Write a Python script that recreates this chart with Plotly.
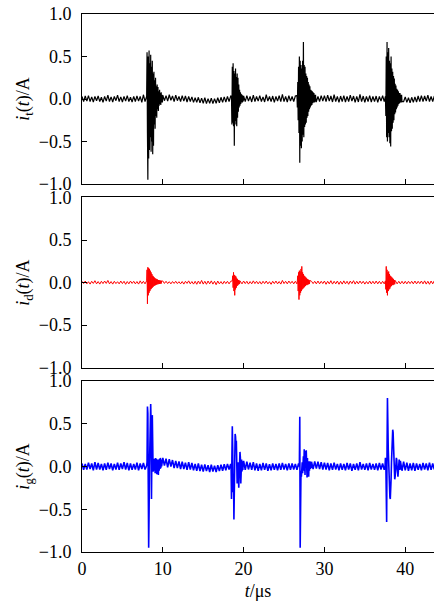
import numpy as np
import plotly.graph_objects as go

# ---------------------------------------------------------------
# Sampled currents (A).  Background record: 0.2 us step from t = 0.
# Discharge bursts: 0.05 us step from the given start time (us).
# ---------------------------------------------------------------
BASE_STEP = 0.2
BURST_STEP = 0.05

# total current i_t(t)
it_base = [
    0.03, -0.03, 0.035, -0.025, 0.04, -0.03, 0.025, -0.035, 0.03, -0.02,
    0.035, -0.03, 0.02, -0.04, 0.03, -0.025, 0.045, -0.03, 0.025, -0.035,
    0.03, -0.02, 0.045, -0.03, 0.025, -0.035, 0.03, -0.025, 0.04, -0.03,
    0.02, -0.035, 0.03, -0.03, 0.035, -0.025, 0.03, -0.04, 0.05, -0.03,
    0.03, -0.03, 0.03, -0.03, 0.03, -0.03, 0.03, -0.03, 0.03, -0.03,
    0.045, -0.02, 0.04, -0.025, 0.05, -0.015, 0.035, -0.03, 0.045, -0.02,
    0.03, -0.03, 0.04, -0.025, 0.035, -0.035, 0.03, -0.03, 0.025, -0.04,
    0.015, -0.04, 0.02, -0.045, 0.01, -0.05, 0.015, -0.055, 0.005, -0.05,
    0.01, -0.055, 0.005, -0.05, 0.015, -0.045, 0.02, -0.04, 0.025, -0.035,
    0.03, -0.03, 0.035, -0.03, 0.03, -0.03, 0.03, -0.03, 0.03, -0.03,
    0.035, -0.03, 0.04, -0.025, 0.03, -0.035, 0.045, -0.03, 0.03, -0.025,
    0.04, -0.03, 0.025, -0.035, 0.05, -0.025, 0.03, -0.03, 0.035, -0.04,
    0.03, -0.025, 0.04, -0.03, 0.055, -0.03, 0.03, -0.035, 0.04, -0.025,
    0.03, -0.03, 0.035, -0.03, 0.03, -0.03, 0.03, -0.03, 0.03, -0.03,
    0.03, -0.03, 0.03, -0.03, 0.03, -0.03, 0.03, -0.03, 0.04, -0.025,
    0.04, -0.03, 0.045, -0.025, 0.035, -0.035, 0.05, -0.03, 0.03, -0.04,
    0.035, -0.03, 0.04, -0.035, 0.03, -0.03, 0.045, -0.025, 0.035, -0.04,
    0.03, -0.035, 0.055, -0.03, 0.035, -0.04, 0.03, -0.03, 0.04, -0.035,
    0.03, -0.03, 0.035, -0.04, 0.03, -0.025, 0.04, -0.03, 0.03, -0.03,
    0.03, -0.03, 0.03, -0.03, 0.03, -0.03, 0.03, -0.03, 0.03, -0.03,
    0.025, -0.04, 0.015, -0.045, 0.02, -0.04, 0.025, -0.035, 0.035, -0.03,
    0.04, -0.03, 0.035, -0.025, 0.045, -0.03, 0.03, -0.03, 0.035,
]
it_bursts = [
    (8.0, [0.03, 0.55, -0.4, -0.95, 0.5, -0.7, 0.57, -0.6, 0.42, -0.45,
           0.52, -0.62, 0.38, -0.5, 0.45, -0.65, 0.3, -0.55, 0.32, -0.3,
           0.22, -0.35, 0.25, -0.2, 0.15, -0.22, 0.17, -0.12, 0.14, -0.14,
           0.09, -0.08, 0.11, -0.06, 0.07, -0.07, 0.08, -0.04, 0.05, -0.04]),
    (18.5, [0.03, -0.3, 0.38, -0.28, 0.42, -0.32, 0.33, -0.55, 0.3, -0.26,
            0.36, -0.3, 0.26, -0.32, 0.3, -0.22, 0.25, -0.15, 0.17, -0.1,
            0.11, -0.08, 0.08, -0.06, 0.06, -0.04, 0.05, -0.04, 0.04, -0.03]),
    (26.6, [0.04, -0.1, 0.2, -0.25, 0.38, -0.4, 0.5, -0.75, 0.45, -0.55,
            0.4, -0.58, 0.36, -0.5, 0.45, -0.42, 0.67, -0.45, 0.4, -0.33,
            0.38, -0.3, 0.3, -0.28, 0.27, -0.22, 0.25, -0.2, 0.2, -0.15,
            0.17, -0.12, 0.15, -0.1, 0.11, -0.08, 0.1, -0.07, 0.09, -0.05,
            0.08, -0.04, 0.07, -0.04, 0.05, -0.03, 0.05, -0.03]),
    (37.55, [0.03, -0.2, 0.5, -0.45, 0.67, -0.5, 0.55, -0.4, 0.6, -0.45,
             0.45, -0.52, 0.42, -0.56, 0.5, -0.38, 0.36, -0.35, 0.32, -0.28,
             0.27, -0.25, 0.24, -0.18, 0.18, -0.16, 0.16, -0.12, 0.12, -0.1,
             0.11, -0.08, 0.09, -0.06, 0.07, -0.05, 0.07, -0.04, 0.05, -0.04,
             0.05, -0.03]),
]

# direct component i_d(t)
id_base = [
    0.015, -0.012, 0.018, -0.015, 0.01, -0.018, 0.015, -0.01, 0.022, -0.015,
    0.012, -0.018, 0.015, -0.012, 0.018, -0.01, 0.025, -0.015, 0.012, -0.018,
    0.015, -0.012, 0.01, -0.015, 0.018, -0.012, 0.015, -0.02, 0.012, -0.015,
    0.018, -0.01, 0.015, -0.015, 0.012, -0.018, 0.02, -0.012, 0.015, -0.015,
    0.015, -0.015, 0.015, -0.015, 0.015, -0.015, 0.015, -0.015, 0.015, -0.015,
    0.018, -0.01, 0.015, -0.012, 0.01, -0.015, 0.012, -0.01, 0.015, -0.012,
    0.01, -0.015, 0.012, -0.018, 0.015, -0.01, 0.02, -0.015, 0.012, -0.018,
    0.015, -0.02, 0.018, -0.015, 0.025, -0.018, 0.015, -0.02, 0.018, -0.015,
    0.02, -0.018, 0.015, -0.025, 0.018, -0.015, 0.012, -0.018, 0.015, -0.012,
    0.015, -0.015, 0.015, -0.015, 0.015, -0.015, 0.015, -0.015, 0.015, -0.015,
    0.018, -0.012, 0.015, -0.018, 0.012, -0.015, 0.02, -0.012, 0.015, -0.015,
    0.012, -0.018, 0.015, -0.012, 0.018, -0.015, 0.01, -0.02, 0.015, -0.012,
    0.018, -0.015, 0.012, -0.018, 0.025, -0.012, 0.015, -0.015, 0.018, -0.01,
    0.015, -0.015, 0.015, -0.015, 0.015, -0.015, 0.015, -0.015, 0.015, -0.015,
    0.015, -0.015, 0.015, -0.012, 0.015, -0.015, 0.018, -0.015, 0.015, -0.012,
    0.018, -0.02, 0.015, -0.015, 0.022, -0.018, 0.015, -0.015, 0.018, -0.02,
    0.015, -0.018, 0.02, -0.015, 0.015, -0.02, 0.018, -0.012, 0.022, -0.018,
    0.015, -0.015, 0.018, -0.012, 0.015, -0.018, 0.012, -0.015, 0.018, -0.015,
    0.015, -0.015, 0.018, -0.015, 0.015, -0.015, 0.015, -0.015, 0.015, -0.015,
    0.015, -0.015, 0.015, -0.015, 0.015, -0.015, 0.015, -0.015, 0.015, -0.015,
    0.015, -0.015, 0.015, -0.012, 0.015, -0.015, 0.018, -0.015, 0.015, -0.012,
    0.018, -0.015, 0.02, -0.018, 0.015, -0.02, 0.018, -0.015, 0.022,
]
id_bursts = [
    (8.0, [0.02, 0.15, -0.25, 0.18, -0.15, 0.17, -0.12, 0.16, -0.1, 0.14,
           -0.08, 0.12, -0.07, 0.1, -0.06, 0.08, -0.05, 0.07, -0.04, 0.06,
           -0.035, 0.05, -0.03, 0.045, -0.025, 0.04, -0.02, 0.035, -0.02, 0.03,
           -0.015, 0.028, -0.015, 0.025, -0.012, 0.022, -0.012, 0.02]),
    (18.6, [0.02, 0.08, -0.06, 0.12, -0.1, 0.09, -0.15, 0.08, -0.08, 0.07,
            -0.06, 0.05, -0.04, 0.04, -0.03, 0.03, -0.02, 0.025, -0.015, 0.02]),
    (26.65, [0.02, 0.08, -0.1, 0.12, -0.2, 0.14, -0.15, 0.13, -0.12, 0.16,
             -0.1, 0.19, -0.08, 0.12, -0.07, 0.1, -0.06, 0.08, -0.05, 0.07,
             -0.04, 0.06, -0.03, 0.05, -0.03, 0.04, -0.02, 0.035, -0.02, 0.03,
             -0.015, 0.025]),
    (37.55, [0.02, -0.08, 0.19, -0.12, 0.15, -0.15, 0.12, -0.1, 0.13, -0.08,
             0.1, -0.07, 0.08, -0.05, 0.07, -0.04, 0.06, -0.03, 0.05, -0.03,
             0.04, -0.02, 0.03, -0.02, 0.025]),
]

# ground component i_g(t)
ig_base = [
    0.035, -0.04, 0.03, -0.035, 0.045, -0.03, 0.035, -0.045, 0.05, -0.035,
    0.04, -0.035, 0.03, -0.045, 0.035, -0.04, 0.045, -0.03, 0.035, -0.045,
    0.03, -0.035, 0.045, -0.04, 0.035, -0.03, 0.05, -0.035, 0.04, -0.045,
    0.035, -0.04, 0.03, -0.035, 0.045, -0.045, 0.035, -0.03, 0.04, -0.035,
    0.03, -0.03, 0.03, -0.03, 0.03, -0.03, 0.03, -0.03, 0.03, -0.03,
    0.1, 0.01, 0.09, -0.01, 0.085, 0.0, 0.075, -0.02, 0.065, -0.02,
    0.06, -0.03, 0.055, -0.03, 0.045, -0.04, 0.05, -0.035, 0.04, -0.045,
    0.03, -0.05, 0.035, -0.055, 0.02, -0.06, 0.025, -0.055, 0.015, -0.065,
    0.02, -0.06, 0.01, -0.065, 0.015, -0.055, 0.02, -0.05, 0.025, -0.045,
    0.03, -0.035, 0.03, -0.03, 0.03, -0.03, 0.03, -0.03, 0.03, -0.03,
    0.065, -0.04, 0.055, -0.035, 0.045, -0.04, 0.05, -0.045, 0.035, -0.05,
    0.03, -0.045, 0.04, -0.04, 0.035, -0.05, 0.025, -0.045, 0.035, -0.04,
    0.03, -0.045, 0.035, -0.04, 0.04, -0.035, 0.03, -0.045, 0.035, -0.04,
    0.035, -0.035, 0.03, -0.04, 0.035, 0.03, -0.03, 0.03, -0.03, 0.03,
    0.03, -0.03, 0.055, -0.03, 0.06, -0.025, 0.055, -0.03, 0.05, -0.035,
    0.045, -0.035, 0.04, -0.045, 0.035, -0.04, 0.045, -0.035, 0.03, -0.045,
    0.035, -0.04, 0.03, -0.045, 0.04, -0.035, 0.035, -0.05, 0.03, -0.04,
    0.035, -0.045, 0.05, -0.035, 0.03, -0.04, 0.035, -0.045, 0.04, -0.035,
    0.03, -0.04, 0.035, -0.045, 0.04, -0.035, 0.035, -0.04, 0.03, -0.03,
    0.03, -0.03, 0.03, -0.03, 0.03, -0.03, 0.03, 0.065, -0.05, 0.055,
    -0.045, 0.045, -0.05, 0.035, -0.045, 0.04, -0.05, 0.035, -0.04, 0.03,
    -0.045, 0.04, -0.035, 0.035, -0.045, 0.045, -0.04, 0.035, -0.035,
]
ig_bursts = [
    (8.0, [0.01, 0.05, 0.7, 0.62, -0.2, -0.95, -0.55, 0.0, 0.3, 0.55,
           0.73, 0.5, -0.38, 0.2, 0.6, 0.1, -0.06, 0.02, 0.09, -0.05,
           0.08, -0.08, 0.1, -0.06, 0.09, -0.09, 0.07, -0.07, 0.08, -0.1,
           0.06, -0.05, 0.09, -0.03, 0.1, -0.02, 0.08, 0.0, 0.07, 0.01]),
    (18.45, [0.0, -0.38, 0.1, 0.47, 0.2, -0.3, -0.1, -0.62, -0.2, 0.2,
             0.38, 0.35, 0.25, 0.3, 0.05, -0.2, -0.1, 0.05, -0.15, -0.25,
             -0.1, 0.05, 0.17, 0.1, -0.2, -0.05, 0.08, -0.06, 0.06, -0.04,
             0.05]),
    (26.9, [0.0, 0.58, -0.95, -0.1, -0.05, -0.12, 0.02, 0.05, -0.08, 0.08,
            0.12, -0.05, 0.2, 0.05, -0.1, 0.18, 0.0, 0.19, 0.05, -0.13,
            0.1, -0.1, 0.06, -0.12, 0.05, -0.05, 0.06, -0.03, 0.04, -0.02]),
    (37.5, [0.0, 0.1, 0.05, -0.3, -0.65, 0.2, 0.8, 0.5, 0.2, -0.05,
            -0.2, -0.3, -0.36, -0.38, -0.3, -0.15, 0.05, 0.2, 0.35, 0.43,
            0.4, 0.25, 0.05, -0.1, -0.15, -0.12, -0.05, 0.05, 0.1, 0.08,
            -0.02, -0.1, -0.12, -0.05, 0.05, 0.08, 0.02, -0.04]),
]

Y_TICKS = [-1.0, -0.5, 0.0, 0.5, 1.0]
X_TICKS = [0, 10, 20, 30, 40]


def assemble(base, bursts):
    """Merge the background record with the finely sampled bursts."""
    t_base = BASE_STEP * np.arange(len(base))
    v_base = np.asarray(base, dtype=float)
    keep = np.ones(len(t_base), dtype=bool)
    ts, vs = [], []
    for t0, vals in bursts:
        tb = t0 + BURST_STEP * np.arange(len(vals))
        keep &= ~((t_base >= tb[0] - 1e-9) & (t_base <= tb[-1] + 1e-9))
        ts.append(tb)
        vs.append(np.asarray(vals, dtype=float))
    t = np.concatenate([t_base[keep]] + ts)
    v = np.concatenate([v_base[keep]] + vs)
    order = np.argsort(t, kind="stable")
    return t[order], v[order]


panels = [
    (it_base, it_bursts, "#000000", 1.2, "<i>i</i><sub>t</sub>(<i>t</i>)/A"),
    (id_base, id_bursts, "#ff0000", 1.0, "<i>i</i><sub>d</sub>(<i>t</i>)/A"),
    (ig_base, ig_bursts, "#0000ff", 1.6, "<i>i</i><sub>g</sub>(<i>t</i>)/A"),
]
domains = [[0.684, 1.0], [0.3426, 0.659], [0.0, 0.318]]

FONT = "Liberation Serif, Times New Roman, serif"
fig = go.Figure()
layout = dict(
    width=434, height=606,
    margin=dict(l=82, r=0, t=14, b=54),
    paper_bgcolor="white", plot_bgcolor="white",
    showlegend=False,
    font=dict(family=FONT, size=18, color="black"),
)

for k, (base, bursts, color, lw, title) in enumerate(panels):
    t, v = assemble(base, bursts)
    n = "" if k == 0 else str(k + 1)
    fig.add_trace(go.Scatter(
        x=t, y=v, mode="lines",
        line=dict(color=color, width=lw),
        xaxis="x" + n, yaxis="y" + n,
        hoverinfo="skip",
    ))
    last = k == len(panels) - 1
    layout["xaxis" + n] = dict(
        domain=[0, 1], anchor="y" + n,
        range=[0, 43.56],
        tickvals=X_TICKS, ticktext=[str(x) for x in X_TICKS],
        showticklabels=last,
        ticks="inside", ticklen=5, tickwidth=1, tickcolor="black",
        showline=True, linecolor="black", linewidth=1, mirror=True,
        showgrid=False, zeroline=False,
        tickfont=dict(family=FONT, size=18),
        title=dict(text="<i>t</i>/μs", font=dict(family=FONT, size=18),
                   standoff=6) if last else None,
        matches=None if k == 0 else "x",
    )
    layout["yaxis" + n] = dict(
        domain=domains[k], anchor="x" + n,
        range=[-1.0, 1.0],
        tickvals=Y_TICKS, ticktext=[f"{y:.1f}".replace("-", "\u2212") for y in Y_TICKS],
        ticks="inside", ticklen=5, tickwidth=1, tickcolor="black",
        showline=True, linecolor="black", linewidth=1, mirror=False,
        showgrid=False, zeroline=False,
        tickfont=dict(family=FONT, size=18),
        ticklabelstandoff=6,
        title=dict(text=title, font=dict(family=FONT, size=18), standoff=4),
    )

fig.update_layout(**layout)
fig.write_html("out.html")
